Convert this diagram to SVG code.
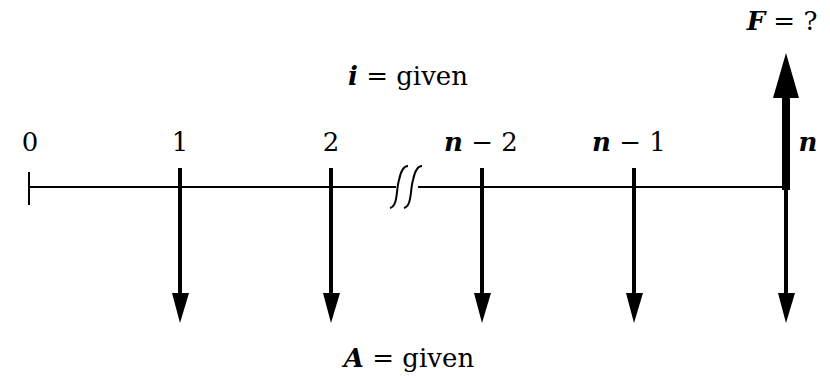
<svg xmlns="http://www.w3.org/2000/svg" width="830" height="381" viewBox="0 0 830 381">
<style>
text{font-family:'DejaVu Serif','Liberation Serif',serif;font-size:26px;fill:#000}
.v{font-style:italic;font-weight:bold}
.ax{stroke:#000;stroke-width:2;fill:none}
.sh{stroke:#000;stroke-width:4;fill:none}
</style>
<rect width="830" height="381" fill="#fff"/>
<g id="connectors">
<line class="ax" x1="29" y1="187" x2="396" y2="187"/>
<line class="ax" x1="418" y1="187" x2="785" y2="187"/>
<line class="ax" x1="29" y1="172" x2="29" y2="205"/>
<path class="ax" d="M390,208 C398,206 396,190 399,180 C401,170 404,166 408,166"/>
<path class="ax" d="M404,208 C412,206 410,190 413,180 C415,170 418,166 422,166"/>
<g id="down1"><line class="sh" x1="180" y1="168" x2="180" y2="300"/><path d="M172,293 L189,293 L180,323 Z"/></g>
<g id="down2"><line class="sh" x1="331" y1="168" x2="331" y2="300"/><path d="M323,293 L340,293 L331,323 Z"/></g>
<g id="downn2"><line class="sh" x1="482" y1="168" x2="482" y2="300"/><path d="M474,293 L491,293 L482,323 Z"/></g>
<g id="downn1"><line class="sh" x1="634" y1="168" x2="634" y2="300"/><path d="M626,293 L643,293 L634,323 Z"/></g>
<g id="downn"><line class="sh" x1="786" y1="187" x2="786" y2="300"/><path d="M778,293 L795,293 L786,323 Z"/></g>
<g id="upn"><line stroke="#000" stroke-width="8" x1="786" y1="190" x2="786" y2="92"/><path d="M773,98 L799,98 L786,53 Z"/></g>
</g>
<g id="labels">
<text x="30" y="151" text-anchor="middle">0</text>
<text x="180" y="151" text-anchor="middle">1</text>
<text x="331" y="151" text-anchor="middle">2</text>
<text x="481" y="151" text-anchor="middle"><tspan class="v">n</tspan> − 2</text>
<text x="629" y="151" text-anchor="middle"><tspan class="v">n</tspan> − 1</text>
<text x="808" y="151" text-anchor="middle" class="v">n</text>
<text x="782" y="30" text-anchor="middle"><tspan class="v">F</tspan> = ?</text>
<text x="408" y="85" text-anchor="middle"><tspan class="v">i</tspan> = given</text>
<text x="409" y="367" text-anchor="middle"><tspan class="v">A</tspan> = given</text>
</g>
</svg>
